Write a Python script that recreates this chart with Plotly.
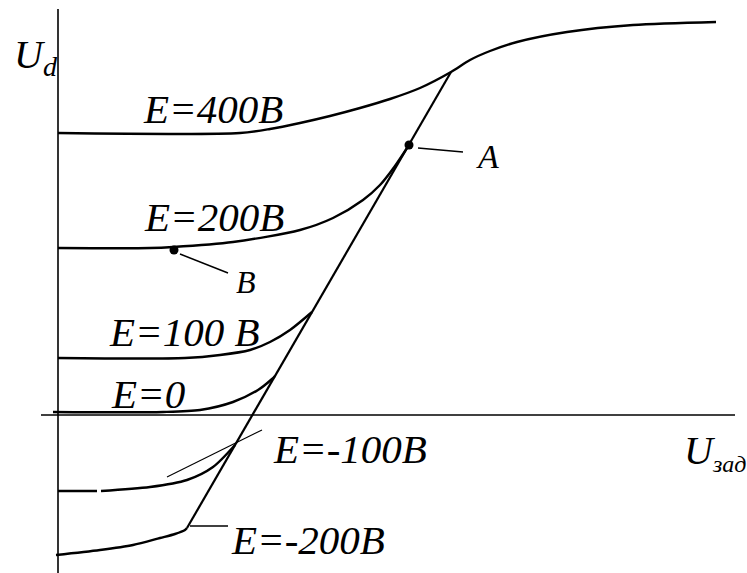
import plotly.graph_objects as go

# Control characteristics U_d(U_zad) of the drive for several back-EMF values E.
# Coordinates: U_zad along x, U_d along y (arbitrary units, origin at axes crossing).

# E = 400 V curve, merging into the saturation branch at the top
e400_x = [0, 182, 212, 242, 272, 302, 332, 362, 393, 412, 432, 459, 509, 575, 658]
e400_y = [282, 282, 286, 292, 299, 307, 316, 327, 343, 355, 364, 373, 383, 390, 393]

# E = 200 V curve, ending at point A on the linear branch
e200_x = [0, 92, 115, 175, 242, 275, 305, 322, 337, 351]
e200_y = [167, 167, 168, 173, 185, 197, 215, 230, 249, 270]

# E = 100 V curve
e100_x = [0, 127, 162, 192, 212, 232, 254]
e100_y = [57, 57, 60, 65, 73, 85, 103]

# E = 0 curve
e0_x = [-5, 105, 142, 175, 200, 214, 217]
e0_y = [3, 3, 5, 13, 25, 36, 39]

# E = -100 V curve (the flat part is drawn with a small break)
em100_flat_x = [0, 39]
em100_flat_y = [-76, -76]
em100_x = [43, 92, 129, 155, 177]
em100_y = [-76, -72, -65, -52, -30]

# E = -200 V curve
em200_x = [-2, 42, 75, 102, 117, 127, 129]
em200_y = [-140, -135, -130, -123, -119, -115, -113]

# Linear (continuous-current) branch
lin_x = [129, 393]
lin_y = [-113, 343]

# Marked operating points
pt_a = (351, 270)
pt_b = (116, 165)

# Leader lines: (x0, y0, x1, y1)
lead_a = (360, 267, 405, 263)
lead_b = (122, 161, 170, 142)
lead_m100 = (109, -62, 204, -15)
lead_m200 = (132, -111, 170, -111)

# Axis extents
x_axis_span = (-17, 677)
y_axis_span = (-158, 406)

# Curve labels: (text, x_left, y_mid)
curve_labels = [
    ("E=400B", 84, 306),
    ("E=200B", 85, 198),
    ("E=100 B", 50, 83),
    ("E=0", 52, 21),
    ("E=-100B", 214, -34),
    ("E=-200B", 172, -125),
]

FONT = "Liberation Serif"
INK = "black"

fig = go.Figure()

def curve(x, y, width=2.4, shape="spline"):
    fig.add_trace(go.Scatter(
        x=x, y=y, mode="lines",
        line=dict(color=INK, width=width, shape=shape, smoothing=0.8),
        hoverinfo="skip",
    ))

# axes
curve(list(x_axis_span), [0, 0], width=1.6, shape="linear")
curve([0, 0], list(y_axis_span), width=1.6, shape="linear")

# characteristics
curve(e400_x, e400_y)
curve(e200_x, e200_y)
curve(e100_x, e100_y)
curve(e0_x, e0_y)
curve(em100_flat_x, em100_flat_y, shape="linear")
curve(em100_x, em100_y)
curve(em200_x, em200_y)
curve(lin_x, lin_y, width=2.2, shape="linear")

# leader lines
for (x0, y0, x1, y1), w in [(lead_a, 1.5), (lead_b, 1.5), (lead_m100, 1.1), (lead_m200, 1.5)]:
    curve([x0, x1], [y0, y1], width=w, shape="linear")

# points A and B
fig.add_trace(go.Scatter(
    x=[pt_a[0], pt_b[0]], y=[pt_a[1], pt_b[1]], mode="markers",
    marker=dict(color=INK, size=9), hoverinfo="skip",
))

def label(text, x, y, size, anchor="left"):
    fig.add_annotation(
        x=x, y=y, xref="x", yref="y", text=text, showarrow=False,
        xanchor=anchor, yanchor="middle",
        font=dict(family=FONT, size=size, color=INK), borderpad=0,
    )

for text, x, y in curve_labels:
    label(f"<i>{text}</i>", x, y, 41)

label("<i>A</i>", 417, 259, 34)
label("<i>B</i>", 177, 133, 32)
label("<i>U<sub>d</sub></i>", -45, 358, 40)
label('<i>U<sub><span style="font-size:24px">зад</span></sub></i>', 625, -37, 40)

fig.update_layout(
    width=747, height=573,
    margin=dict(l=0, r=0, t=0, b=0),
    paper_bgcolor="white", plot_bgcolor="white",
    showlegend=False,
    xaxis=dict(range=[-58, 689], visible=False, fixedrange=True),
    yaxis=dict(range=[-158, 415], visible=False, fixedrange=True),
)

fig.write_html("out.html")
